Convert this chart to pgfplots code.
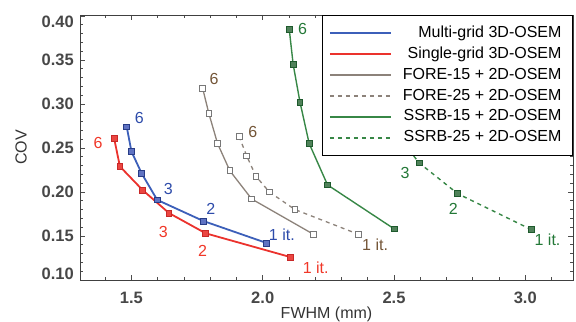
\documentclass[border=0pt]{standalone}
\usepackage{pgfplots}
\pgfplotsset{compat=1.18}
\usepackage{fontspec}
\setmainfont{Liberation Sans}
\definecolor{cblue}{RGB}{60,95,185}
\definecolor{cbluefill}{RGB}{95,115,195}
\definecolor{cblueedge}{RGB}{40,60,135}
\definecolor{cbluelab}{RGB}{45,75,170}
\definecolor{cred}{RGB}{235,50,45}
\definecolor{credfill}{RGB}{235,70,65}
\definecolor{crededge}{RGB}{200,40,40}
\definecolor{credlab}{RGB}{240,55,40}
\definecolor{cgray}{RGB}{140,130,122}
\definecolor{cgrayedge}{RGB}{120,120,120}
\definecolor{cbrownlab}{RGB}{115,85,55}
\definecolor{cgreen}{RGB}{55,135,70}
\definecolor{cgreenedge}{RGB}{30,90,45}
\definecolor{cgreenfill}{RGB}{80,130,90}
\definecolor{cgreenlab}{RGB}{35,120,55}
\begin{document}
\begin{tikzpicture}
\begin{axis}[
  at={(0,0)}, anchor=south west,
  scale only axis, width=493bp, height=265bp,
  xmin=1.304, xmax=3.182, ymin=0.10, ymax=0.401,
  xtick={1.5,2.0,2.5,3.0},
  minor xtick={1.4,1.6,1.7,1.8,1.9,2.1,2.2,2.3,2.4,2.6,2.7,2.8,2.9,3.1},
  ytick={0.10,0.15,0.20,0.25,0.30,0.35,0.40},
  minor ytick={0.11,0.12,0.13,0.14,0.16,0.17,0.18,0.19,0.21,0.22,0.23,0.24,0.26,0.27,0.28,0.29,0.31,0.32,0.33,0.34,0.36,0.37,0.38,0.39},
  tick pos=both, tick align=inside,
  major tick length=5bp, minor tick length=3bp,
  every tick/.style={black!70, line width=0.6bp},
  axis line style={black!75, line width=0.8bp},
  /pgf/number format/assume math mode=true,
  xticklabel={\pgfmathprintnumber[fixed,fixed zerofill,precision=1]{\tick}},
  yticklabel={\ifnum\ticknum=0\relax\raisebox{6bp}[\height][\depth]{\pgfmathprintnumber[fixed,fixed zerofill,precision=2]{\tick}}\else\ifnum\ticknum=6\relax\raisebox{-6bp}[\height][\depth]{\pgfmathprintnumber[fixed,fixed zerofill,precision=2]{\tick}}\else\pgfmathprintnumber[fixed,fixed zerofill,precision=2]{\tick}\fi\fi},
  xticklabel style={font=\fontsize{16.5bp}{19bp}\selectfont\bfseries, text=black!72, anchor=north, inner sep=0pt, yshift=-11.5bp},
  yticklabel style={font=\fontsize{16.5bp}{19bp}\selectfont\bfseries, text=black!72, anchor=east, inner sep=0pt, xshift=-6bp},
  xlabel={FWHM (mm)},
  ylabel={COV},
  xlabel style={font=\fontsize{16bp}{19bp}\selectfont, text=black!80, at={(axis description cs:0.5,-0.145)}, anchor=base, inner sep=0pt},
  ylabel style={font=\fontsize{16bp}{19bp}\selectfont, text=black!80, at={(axis description cs:-0.1075,0.5)}, anchor=south, inner sep=0pt},
  legend style={at={(rel axis cs:1,1)}, anchor=north east, draw=black, line width=1bp, fill=white,
    font=\fontsize{16bp}{19bp}\selectfont, inner xsep=6bp, inner ysep=7bp,
    nodes={inner xsep=5bp, inner ysep=2.5bp, text height=12bp, text depth=4bp},
    /tikz/every odd column/.append style={column sep=6bp}},
  legend cell align=right,
  legend image code/.code={\draw[#1, mark=none] (0bp,0bp) -- (61bp,0bp);},
]
\addplot[cblue, line width=1.8bp, mark=square*, mark size=2.9bp, mark options={solid, fill=cbluefill, draw=cblueedge, line width=0.8bp}] coordinates {
(1.482,0.274) (1.500,0.246) (1.539,0.221) (1.598,0.191) (1.774,0.167) (2.015,0.142)};
\addlegendentry{Multi-grid 3D-OSEM}
\addplot[cred, line width=1.8bp, mark=square*, mark size=2.9bp, mark options={solid, fill=credfill, draw=crededge, line width=0.8bp}] coordinates {
(1.434,0.261) (1.456,0.229) (1.543,0.202) (1.643,0.176) (1.783,0.153) (2.106,0.126)};
\addlegendentry{Single-grid 3D-OSEM}
\addplot[cgray, line width=1.3bp, mark=square*, mark size=2.9bp, mark options={solid, fill=white, draw=cgrayedge, line width=0.9bp}] coordinates {
(1.771,0.318) (1.795,0.289) (1.828,0.255) (1.875,0.224) (1.958,0.192) (2.193,0.152)};
\addlegendentry{FORE-15 + 2D-OSEM}
\addplot[cgray, line width=1.3bp, dash pattern=on 4bp off 4bp, mark=square*, mark size=2.9bp, mark options={solid, fill=white, draw=cgrayedge, line width=0.9bp}] coordinates {
(1.910,0.263) (1.939,0.241) (1.974,0.218) (2.025,0.200) (2.123,0.180) (2.364,0.152)};
\addlegendentry{FORE-25 + 2D-OSEM}
\addplot[cgreen, line width=1.4bp, mark=square*, mark size=2.9bp, mark options={solid, fill=cgreenfill, draw=cgreenedge, line width=0.9bp}] coordinates {
(2.101,0.385) (2.116,0.345) (2.142,0.302) (2.177,0.255) (2.247,0.208) (2.501,0.158)};
\addlegendentry{SSRB-15 + 2D-OSEM}
\addplot[cgreen, line width=1.4bp, dash pattern=on 4bp off 4bp, mark=square*, mark size=2.9bp, mark options={solid, fill=cgreenfill, draw=cgreenedge, line width=0.9bp}] coordinates {
(2.430,0.320) (2.470,0.290) (2.520,0.262) (2.596,0.233) (2.743,0.198) (3.025,0.157)};
\addlegendentry{SSRB-25 + 2D-OSEM}
% iteration labels
\begin{scope}[every node/.style={font=\fontsize{16bp}{19bp}\selectfont, inner sep=0pt}]
\node[text=cbluelab] at (axis cs:1.530,0.284) {6};
\node[text=cbluelab] at (axis cs:1.640,0.203) {3};
\node[text=cbluelab] at (axis cs:1.802,0.181) {2};
\node[text=cbluelab] at (axis cs:2.073,0.151) {1 it.};
\node[text=credlab] at (axis cs:1.373,0.256) {6};
\node[text=credlab] at (axis cs:1.621,0.155) {3};
\node[text=credlab] at (axis cs:1.771,0.133) {2};
\node[text=credlab] at (axis cs:2.202,0.114) {1 it.};
\node[text=cbrownlab] at (axis cs:1.815,0.328) {6};
\node[text=cbrownlab] at (axis cs:1.962,0.268) {6};
\node[text=cbrownlab] at (axis cs:2.428,0.140) {1 it.};
\node[text=cgreenlab] at (axis cs:2.152,0.385) {6};
\node[text=cgreenlab] at (axis cs:2.542,0.222) {3};
\node[text=cgreenlab] at (axis cs:2.726,0.181) {2};
\node[text=cgreenlab] at (axis cs:3.085,0.146) {1 it.};
\end{scope}
\end{axis}
\pgfresetboundingbox
\path[use as bounding box] (-80bp,-42bp) rectangle (496bp,280bp);
\end{tikzpicture}
\end{document}
